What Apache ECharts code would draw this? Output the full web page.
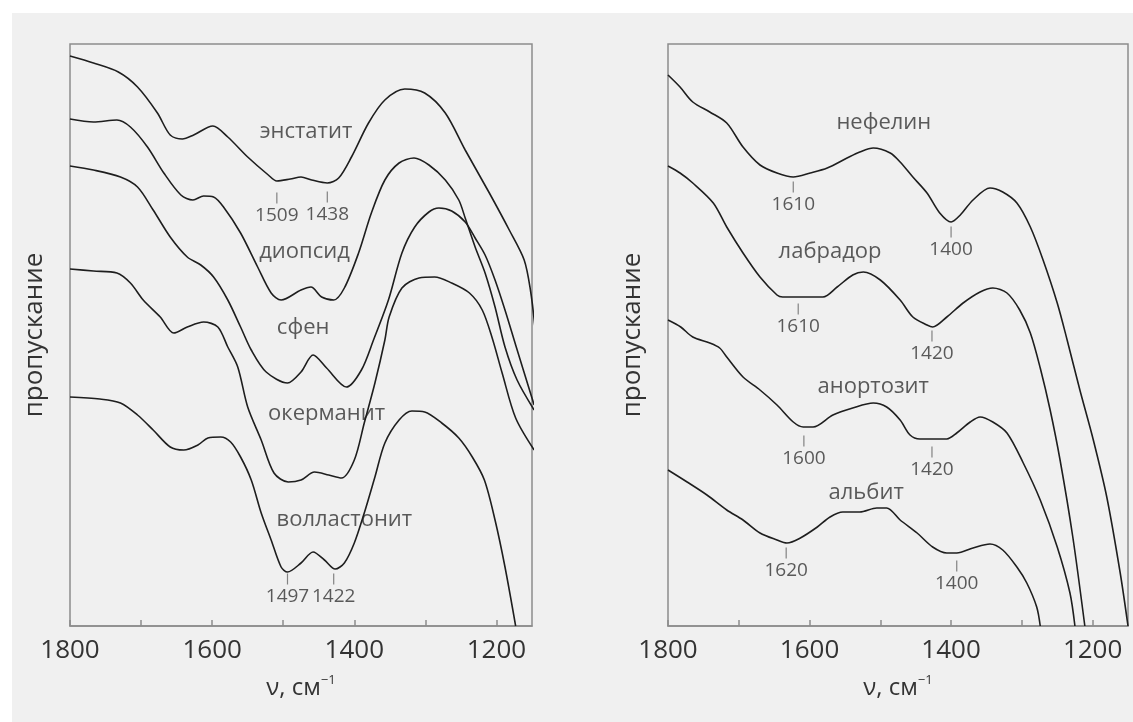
<!DOCTYPE html>
<html>
<head>
<meta charset="utf-8">
<script src="https://cdn.jsdelivr.net/npm/echarts@6/dist/echarts.min.js"></script>
<style>
html, body { margin: 0; padding: 0; background: #fff; }
#main { position: absolute; left: 12px; top: 13px; width: 1121px; height: 709px; }
</style>
</head>
<body>
<div id="main"></div>
<script>
// ИК-спектры пропускания, [волновое число, пропускание (усл. ед.)]
// левая панель
var enstatit = [[1800,570],[1767,563],[1732,554],[1705,539],[1677,513],[1659,491],[1642,487],[1626,491],[1599,500],[1578,489],[1550,469],[1521,451],[1509,445],[1490,447],[1475,449],[1460,446],[1438,443],[1422,448],[1404,469],[1380,503],[1357,526],[1329,537],[1301,533],[1272,513],[1244,476],[1210,433],[1182,396],[1161,366],[1152,335],[1146,300]];
var diopsid = [[1800,507],[1767,504],[1734,506],[1715,499],[1691,479],[1668,453],[1644,431],[1627,426],[1612,430],[1598,429],[1584,419],[1560,393],[1536,359],[1517,333],[1503,326],[1475,336],[1461,339],[1446,329],[1429,326],[1414,338],[1394,373],[1376,413],[1357,446],[1337,463],[1316,468],[1295,461],[1272,446],[1253,426],[1244,408],[1230,379],[1216,353],[1202,319],[1188,279],[1171,246],[1147,216]];
var sfen = [[1800,460],[1767,456],[1729,449],[1705,439],[1683,416],[1659,389],[1635,369],[1616,361],[1598,349],[1578,326],[1560,299],[1545,276],[1524,254],[1494,243],[1475,254],[1458,271],[1439,258],[1411,239],[1390,256],[1373,286],[1352,326],[1333,373],[1315,399],[1295,414],[1281,418],[1263,415],[1244,404],[1230,388],[1216,371],[1202,346],[1188,316],[1173,281],[1147,221]];
var okermanit = [[1800,357],[1767,355],[1734,353],[1715,343],[1697,326],[1673,309],[1654,293],[1635,299],[1612,304],[1592,299],[1578,279],[1564,259],[1550,219],[1531,186],[1513,153],[1493,144],[1475,146],[1456,154],[1436,151],[1418,148],[1400,166],[1386,203],[1371,243],[1357,286],[1351,309],[1333,338],[1309,348],[1287,349],[1263,343],[1238,333],[1220,316],[1206,288],[1192,253],[1173,208],[1147,176]];
var vollastonit = [[1800,229],[1758,227],[1729,223],[1705,211],[1683,196],[1659,179],[1640,176],[1620,181],[1606,188],[1588,189],[1574,184],[1560,169],[1545,146],[1531,113],[1517,86],[1503,59],[1494,54],[1475,63],[1458,74],[1442,66],[1427,57],[1414,63],[1400,83],[1386,113],[1371,149],[1357,183],[1337,206],[1319,215],[1301,214],[1277,203],[1253,188],[1234,169],[1217,146],[1202,106],[1188,59],[1173,0]];

// правая панель
var nefelin = [[1800,551],[1783,539],[1765,524],[1741,514],[1717,503],[1694,479],[1670,461],[1646,453],[1623,449],[1599,453],[1575,458],[1547,468],[1529,474],[1510,478],[1486,473],[1472,464],[1454,449],[1434,433],[1416,413],[1400,404],[1387,411],[1369,426],[1345,438],[1327,434],[1307,423],[1288,399],[1270,366],[1250,323],[1236,286],[1218,236],[1199,186],[1180,129],[1161,53],[1150,0]];
var labrador = [[1800,460],[1783,453],[1765,443],[1736,423],[1717,399],[1694,373],[1670,349],[1646,331],[1638,329],[1613,329],[1581,329],[1561,339],[1539,351],[1524,354],[1500,346],[1472,326],[1454,309],[1434,301],[1426,299],[1406,309],[1383,323],[1359,334],[1341,338],[1321,333],[1303,316],[1288,293],[1274,258],[1260,216],[1246,166],[1228,89],[1211,0]];
var anortozit = [[1800,306],[1782,299],[1765,289],[1741,283],[1727,278],[1717,269],[1694,249],[1670,236],[1646,221],[1623,204],[1609,199],[1595,199],[1567,211],[1539,218],[1510,223],[1491,219],[1472,206],[1458,191],[1444,187],[1406,187],[1392,193],[1373,204],[1359,209],[1341,204],[1321,193],[1298,163],[1274,126],[1250,79],[1232,33],[1225,0]];
var albit = [[1800,156],[1773,144],[1745,131],[1717,116],[1694,106],[1670,93],[1646,86],[1632,83],[1613,88],[1589,99],[1571,109],[1553,114],[1529,114],[1505,118],[1491,118],[1472,106],[1448,93],[1426,79],[1406,73],[1392,73],[1369,78],[1345,82],[1327,76],[1307,59],[1293,43],[1279,19],[1274,0]];

// подписи минералов: [x, y, текст]
var leftNames = [[1468,494,'энстатит'],[1470,374,'диопсид'],[1472,298,'сфен'],[1439,212,'окерманит'],[1414,106,'волластонит']];
var rightNames = [[1495,503,'нефелин'],[1571,374,'лабрадор'],[1510,239,'анортозит'],[1520,133,'альбит']];

// отметки полос: [x, y штриха, текст]
var leftMarks = [[1509,428,'1509'],[1438,429,'1438'],[1494,47,'1497'],[1429,47,'1422']];
var rightMarks = [[1623,439,'1610'],[1400,394,'1400'],[1616,317,'1610'],[1427,290,'1420'],[1608,185,'1600'],[1427,174,'1420'],[1633,73,'1620'],[1392,60,'1400']];

var tickValues = [1200,1300,1400,1500,1600,1700,1800];
var labelValues = [1200,1400,1600,1800];

var fontFamily = '"Open Sans", sans-serif';
var textColor = '#333';
var frameColor = '#8c8c8c';

function makeX(idx) {
	return {
		type: 'value',
		gridIndex: idx,
		inverse: true,
		min: 1150,
		max: 1800,
		splitLine: {show: false},
		axisLine: {show: true, lineStyle: {color: frameColor, width: 1.5}},
		axisTick: {show: true, inside: true, length: 6, customValues: tickValues, lineStyle: {color: frameColor, width: 1.5}},
		axisLabel: {
			customValues: labelValues, fontSize: 26, color: textColor, fontFamily: fontFamily, margin: 12,
			formatter: function(v) { return String(v); }
		},
		name: 'ν, см{sup|−1}',
		nameLocation: 'middle',
		nameGap: 48,
		nameTextStyle: {
			fontSize: 24, color: textColor, fontFamily: fontFamily, lineHeight: 28,
			rich: {sup: {fontSize: 13, color: textColor, fontFamily: fontFamily, lineHeight: 16, verticalAlign: 'top'}}
		}
	};
}

function makeY(idx) {
	return {
		type: 'value',
		gridIndex: idx,
		min: 0,
		max: 582,
		axisLine: {show: false},
		axisTick: {show: false},
		axisLabel: {show: false},
		splitLine: {show: false},
		name: 'пропускание',
		nameLocation: 'middle',
		nameRotate: 90,
		nameGap: 22,
		nameTextStyle: {fontSize: 26, color: textColor, fontFamily: fontFamily}
	};
}

function lineSeries(name, data, idx) {
	return {
		name: name,
		type: 'line',
		xAxisIndex: idx,
		yAxisIndex: idx,
		data: data,
		showSymbol: false,
		smooth: 0.3,
		lineStyle: {color: '#1e1e1e', width: 1.6},
		z: 3
	};
}

function namesSeries(data, idx) {
	return {
		type: 'scatter',
		xAxisIndex: idx,
		yAxisIndex: idx,
		data: data,
		symbolSize: 0,
		z: 2,
		label: {
			show: true,
			position: 'inside',
			fontSize: 22,
			color: textColor,
			fontFamily: fontFamily,
			formatter: function(p) { return p.value[2]; }
		}
	};
}

function marksSeries(data, idx) {
	return {
		type: 'scatter',
		xAxisIndex: idx,
		yAxisIndex: idx,
		data: data,
		symbol: 'rect',
		symbolSize: [1.2, 11],
		itemStyle: {color: '#666'},
		z: 2,
		label: {
			show: true,
			position: 'bottom',
			distance: 3,
			fontSize: 19,
			color: textColor,
			fontFamily: fontFamily,
			formatter: function(p) { return p.value[2]; }
		}
	};
}

var option = {
	animation: false,
	backgroundColor: '#f0f0f0',
	grid: [
		{left: 58, top: 31, width: 462, height: 582, show: true, borderColor: frameColor, borderWidth: 1.5, backgroundColor: 'transparent'},
		{left: 656, top: 31, width: 460, height: 582, show: true, borderColor: frameColor, borderWidth: 1.5, backgroundColor: 'transparent'}
	],
	xAxis: [makeX(0), makeX(1)],
	yAxis: [makeY(0), makeY(1)],
	series: [
		lineSeries('энстатит', enstatit, 0),
		lineSeries('диопсид', diopsid, 0),
		lineSeries('сфен', sfen, 0),
		lineSeries('окерманит', okermanit, 0),
		lineSeries('волластонит', vollastonit, 0),
		namesSeries(leftNames, 0),
		marksSeries(leftMarks, 0),
		lineSeries('нефелин', nefelin, 1),
		lineSeries('лабрадор', labrador, 1),
		lineSeries('анортозит', anortozit, 1),
		lineSeries('альбит', albit, 1),
		namesSeries(rightNames, 1),
		marksSeries(rightMarks, 1)
	]
};

var myChart = echarts.init(document.getElementById('main'));
myChart.setOption(option);
</script>
</body>
</html>
